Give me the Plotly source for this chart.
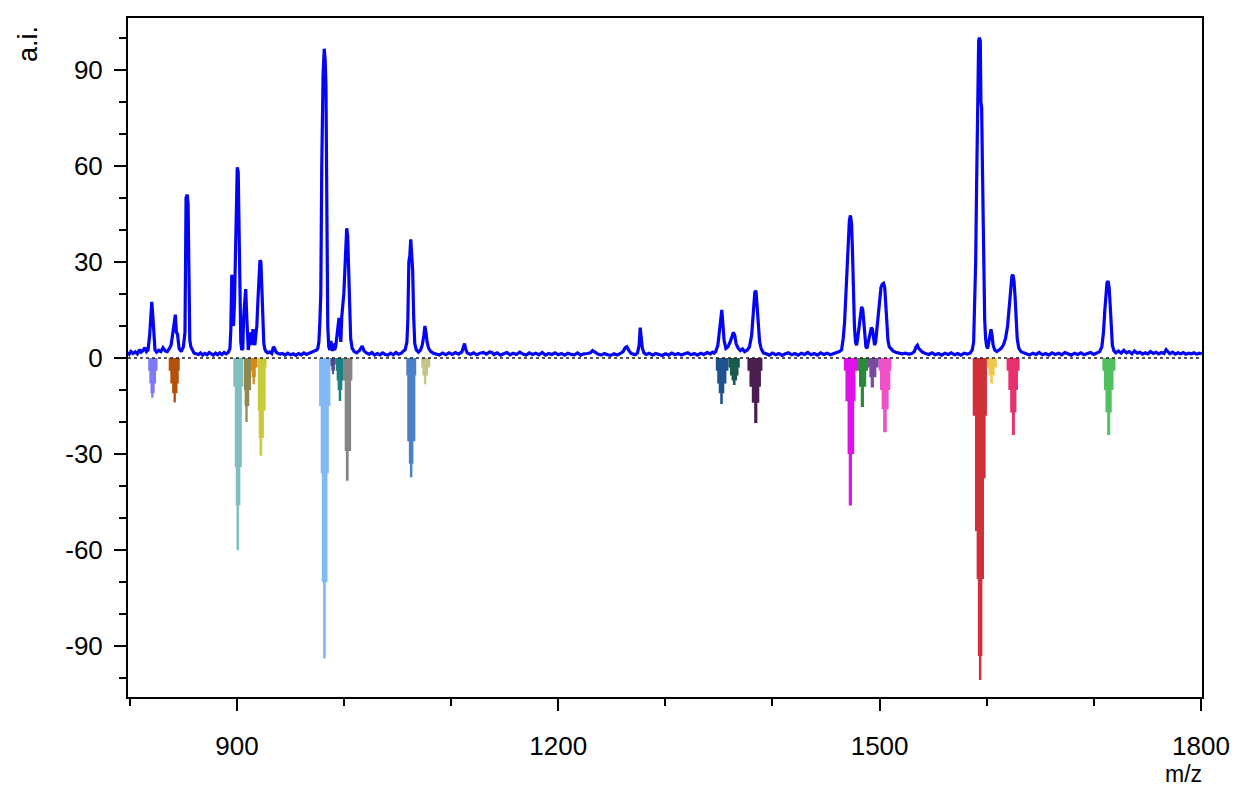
import plotly.graph_objects as go

# ---------------- positive spectrum (m/z, a.i.) by segment ----------------
seg_a = [(798.3, 1.8), (799.5, 1.2), (801, 2.0), (803, 1.4), (805, 1.9), (807, 1.3), (809, 2.6), (810.5, 1.8),
         (812, 2.2), (814, 3.2), (815.5, 2.0), (817, 2.5), (818.5, 7), (819.5, 12), (820.5, 17.5), (821.5, 13),
         (822.5, 5), (823.5, 2.5), (825, 1.8), (827, 2.4), (829, 2.0), (831, 3.2), (833, 2.2), (835, 2.0),
         (837, 3.0), (838.5, 4.0), (840, 7.5), (841.5, 12.5), (842.5, 13.5), (843.5, 8), (844.5, 7.5), (846, 3.0),
         (848, 2.0), (850, 3.5), (851.5, 8), (852.5, 50), (853.6, 51), (854.4, 48), (855.2, 8), (856, 5.5),
         (857, 3.5), (858.5, 2.2), (860, 1.5), (862, 1.3)]
seg_b = [(864, 1.1), (866, 1.6), (868, 0.9), (870, 1.4), (872, 1.0), (874, 1.7), (876, 1.2), (878, 0.9),
         (880, 1.5), (882, 1.0), (884, 1.6), (886, 1.1), (888, 1.7), (890, 1.3), (892, 1.8)]
seg_c = [(893.5, 3), (894.3, 9), (895.2, 26), (896, 11), (896.8, 10), (897.7, 17), (898.6, 33), (899.5, 50),
         (900.3, 59.5), (901.2, 58), (902, 38), (902.8, 14), (903.6, 5), (904.5, 2.5), (905.5, 3), (906.3, 13),
         (907.2, 17), (908.2, 21.5), (909, 14), (909.8, 5), (910.6, 2.5), (911.5, 5), (912.4, 8), (913.3, 4),
         (914.2, 6), (915, 9), (915.8, 5), (916.7, 4), (917.6, 7), (918.6, 10), (919.6, 18), (920.6, 28),
         (921.5, 30.5), (922.4, 30), (923.3, 22), (924.2, 10), (925.1, 4.5), (926, 2.8), (927.2, 2.0),
         (928.8, 1.6), (930.6, 1.9), (932.5, 1.4), (934, 3.5), (935.2, 3.0), (936.5, 1.8), (938.5, 1.4),
         (940.5, 1.2)]
seg_d = [(942.5, 1.4), (945, 0.9), (947.5, 1.5), (950, 1.0), (952.5, 1.3), (955, 0.8), (957.5, 1.4), (960, 1.0),
         (962.5, 1.6), (965, 1.1), (967.5, 1.5), (970, 1.8), (972.5, 2.2), (974.5, 2.5)]
seg_e = [(975.5, 3), (976.5, 5), (977.4, 11), (978.3, 20), (979.2, 60), (979.8, 78), (980.4, 88), (981.5, 96.5),
         (982.4, 93), (983.1, 85), (983.6, 50), (984.1, 24), (984.8, 10), (985.7, 3.5), (986.7, 2.5),
         (987.7, 5.3), (988.5, 3), (989.3, 2.2), (990.2, 4.5), (991.2, 2.5), (992.2, 3.5), (993.3, 7),
         (994.3, 10), (995.3, 12.5), (996.2, 8), (997, 5), (997.9, 13), (998.8, 16.8), (999.8, 20),
         (1000.7, 27), (1001.6, 37), (1002.5, 40.5), (1003.4, 38), (1004.4, 24), (1005.3, 12), (1006.2, 6),
         (1007.6, 3), (1009.5, 2), (1011.8, 1.6), (1014.6, 2.4), (1016.9, 3.7), (1018.8, 2.2), (1021.2, 1.5)]
seg_f = [(1023.5, 1.2), (1026, 1.7), (1028.5, 0.9), (1031, 1.4), (1033.5, 1.0), (1036, 1.6), (1038.5, 1.1),
         (1041, 0.9), (1043.5, 1.5), (1046, 1.0), (1048.5, 1.7), (1051, 1.2), (1053.5, 1.5), (1055.5, 2.2)]
seg_g = [(1057, 2.5), (1058.7, 5), (1059.6, 12), (1060.5, 30), (1061.4, 32), (1062.3, 37), (1063.2, 33),
         (1064.1, 27), (1065, 13), (1066, 4.5), (1067.5, 2.5), (1069.5, 1.8), (1071.5, 2.5), (1073, 4),
         (1074.5, 7), (1075.5, 10), (1076.5, 8), (1077.5, 5), (1079, 3), (1081, 2.0), (1083.5, 1.5)]
seg_h = [(1086, 1.3), (1089, 0.9), (1092, 1.5), (1095, 1.0), (1098, 1.6), (1101, 1.1), (1104, 1.7), (1107, 1.2),
         (1110, 1.9), (1111.5, 3.5), (1112.5, 4.5), (1113.5, 2.8), (1115, 1.6), (1118, 1.1), (1121, 1.6),
         (1124, 1.0), (1127, 1.5), (1130, 1.7), (1133, 1.2), (1136, 1.9), (1138, 1.7), (1140, 1.1), (1143, 1.6),
         (1146, 0.9), (1149, 1.4), (1152, 1.7), (1155, 1.0), (1158, 1.5), (1161, 1.1), (1164, 1.8), (1167, 1.2),
         (1170, 0.9), (1173, 1.6), (1176, 1.1), (1179, 1.5), (1182, 1.0), (1185, 1.7), (1188, 0.9), (1191, 1.4),
         (1194, 1.1), (1197, 1.6), (1200, 1.0), (1203, 1.4), (1206, 0.9), (1209, 1.5), (1212, 1.1), (1215, 1.0),
         (1218, 1.6), (1221, 0.9), (1224, 1.3), (1227, 1.4), (1230, 1.6), (1232, 2.3), (1234, 1.8), (1237, 1.2),
         (1240, 0.9), (1243, 1.4), (1246, 1.0), (1249, 0.8), (1252, 1.3), (1255, 0.9), (1258, 1.4),
         (1260.5, 2.0), (1262.5, 3.2), (1264, 3.5), (1266, 2.3), (1268, 1.4), (1270, 1.2), (1272, 1.0),
         (1274, 1.6), (1275.5, 4), (1276.5, 9.5), (1277.5, 7), (1278.5, 3), (1280, 1.6), (1282, 1.1),
         (1285, 1.5), (1288, 0.9), (1291, 1.4), (1294, 1.0), (1297, 0.8), (1300, 1.3), (1303, 0.9), (1306, 1.5),
         (1309, 1.0), (1312, 1.4), (1315, 0.9), (1318, 1.3), (1321, 1.6), (1324, 1.0), (1327, 1.4), (1330, 0.9),
         (1333, 1.5), (1336, 1.1), (1339, 1.7), (1342, 1.3), (1344, 1.8)]
seg_i = [(1345.5, 1.5), (1347, 2.0), (1349, 4), (1350.5, 9), (1351.8, 14.5), (1352.7, 15), (1353.6, 11),
         (1354.8, 5.5), (1356.5, 3), (1358.5, 3.5), (1360.5, 5), (1362, 7), (1363.5, 8), (1364.8, 7),
         (1366, 4.5), (1368, 3), (1370, 2.3), (1372, 2.8), (1374, 2.0), (1376.5, 2.5), (1378.5, 3.5),
         (1380.5, 7), (1382, 13), (1383.5, 20.5), (1384.6, 21), (1385.8, 16), (1386.8, 11), (1388, 5),
         (1389.5, 2.8), (1391.5, 1.6), (1394, 1.3)]
seg_j = [(1397, 0.9), (1400, 1.5), (1403, 1.0), (1406, 1.4), (1409, 0.8), (1412, 1.3), (1415, 1.6), (1418, 1.0),
         (1421, 1.4), (1424, 0.9), (1427, 1.5), (1430, 1.1), (1433, 1.7), (1436, 1.0), (1439, 1.4), (1442, 0.9),
         (1445, 1.6), (1448, 1.1), (1451, 1.5), (1454, 1.0), (1457, 1.4), (1460, 1.6), (1462.5, 2.0)]
seg_k = [(1464.5, 2.5), (1466, 6), (1467.3, 11), (1468.5, 19), (1469.7, 28), (1470.8, 36), (1471.8, 43),
         (1472.8, 44.5), (1473.8, 42), (1474.7, 33), (1475.6, 20), (1476.5, 10), (1477.5, 5), (1478.5, 4),
         (1479.5, 6), (1480.7, 10), (1482, 14.5), (1483.2, 16), (1484.3, 15), (1485.3, 11), (1486.2, 6),
         (1487.2, 3.5), (1488.2, 3), (1489.3, 4.5), (1490.3, 6.5), (1491.3, 8), (1492.3, 9.5), (1493.3, 9),
         (1494.3, 6), (1495.3, 4), (1496.3, 5), (1497.5, 9), (1498.7, 14), (1500, 19), (1501.3, 22),
         (1502.5, 23), (1503.7, 23.3), (1504.8, 22), (1505.8, 17), (1506.8, 10), (1507.8, 5.5), (1509, 3.5),
         (1510.5, 2.8), (1512.5, 2.2), (1515, 1.8), (1518, 1.5), (1521, 1.3), (1524, 1.5), (1527, 1.2),
         (1530, 1.4), (1532.5, 2.0), (1534, 3.5), (1535.3, 4.0), (1536.5, 3.0), (1538, 2.5), (1540, 1.8),
         (1543, 1.4), (1546, 1.1), (1549, 1.6), (1552, 1.0), (1555, 1.4), (1558, 0.9), (1561, 1.5), (1564, 1.1),
         (1567, 1.6), (1570, 1.0), (1573, 1.4), (1576, 0.9), (1579, 1.5), (1582, 1.2), (1584.5, 1.5),
         (1586.5, 2.5)]
seg_l = [(1587.8, 5), (1588.8, 15), (1589.7, 30), (1590.6, 55), (1591.2, 70), (1591.8, 90), (1592.5, 99),
         (1593.2, 100), (1594, 99), (1594.6, 80), (1595.3, 78), (1596, 60), (1596.7, 40), (1597.4, 22),
         (1598.1, 12), (1599, 6), (1600, 3.5), (1601, 3), (1602, 5), (1603, 8), (1604, 9), (1605, 7), (1606, 4),
         (1607.5, 2.5), (1609.5, 2), (1611.5, 2.5), (1613.5, 3), (1615.5, 4), (1617.5, 6), (1619.5, 10),
         (1621, 16), (1622.3, 22), (1623.5, 25.5), (1624.5, 26), (1625.5, 24), (1626.5, 19), (1627.5, 12),
         (1628.5, 6), (1630, 3), (1632, 2), (1634.5, 1.6), (1637, 1.3)]
seg_m = [(1640, 0.9), (1643, 1.5), (1646, 1.1), (1649, 1.7), (1652, 1.0), (1655, 1.4), (1658, 0.9), (1661, 1.6),
         (1664, 1.1), (1667, 1.5), (1670, 1.0), (1673, 1.7), (1676, 1.2), (1679, 0.9), (1682, 1.5), (1685, 1.1),
         (1688, 1.6), (1691, 1.0), (1694, 1.4), (1697, 1.7), (1700, 1.1), (1703, 1.5), (1705.5, 2.0)]
seg_n = [(1707.5, 3.5), (1709, 8), (1710.3, 15), (1711.3, 21), (1712.3, 23.5), (1713.3, 24), (1714.3, 22),
         (1715.2, 17), (1716.2, 9), (1717.3, 4), (1718.8, 2.2), (1720.5, 1.6), (1723, 2.2), (1725.5, 1.5),
         (1728, 2.4), (1730.5, 1.6), (1733, 2.0), (1735.5, 1.3), (1738, 2.2), (1740.5, 1.5), (1743, 1.8),
         (1745.5, 1.2), (1748, 1.6), (1750.5, 1.3), (1753, 2.0), (1755.5, 1.4), (1758, 1.8), (1760.5, 1.3),
         (1763, 1.7), (1765.5, 1.4), (1767.5, 2.6), (1769, 2.0), (1771, 1.3), (1773.5, 1.8), (1776, 1.2),
         (1778.5, 1.6), (1781, 1.3), (1783.5, 1.7), (1786, 1.2), (1788.5, 1.5), (1791, 1.3), (1793.5, 1.6),
         (1796, 1.2), (1798.5, 1.5), (1800.8, 1.3)]

# ---------------- negative (assigned) peaks: (m/z step edge, -a.i.) ----------------
neg_colors = ["#7b7bf7", "#b5500a", "#80bfbf", "#8c8a4e", "#d68a1a", "#c9c93a", "#80b8f8", "#4a4a8c",
              "#1a8282", "#858585", "#4a80c8", "#c4c484", "#1f5090", "#1a5a48", "#4a1e4e", "#e010e8",
              "#2a8a3a", "#7a4aa0", "#f050c8", "#d03038", "#f0c850", "#e83070", "#50c060"]
neg_p01 = [(817.2, -4), (818.2, -8), (819.3, -11), (820, -12.4), (822, -11), (823.2, -8), (824.5, -4), (825.9, 0)]
neg_p02 = [(836.3, -4), (837.8, -8), (839.5, -11), (840.8, -13.9), (843, -11), (844.5, -8), (845.7, -4), (846.6, 0)]
neg_p03 = [(896.6, -9), (898, -34), (898.9, -46), (899.6, -60), (902, -46), (903.2, -34), (904.6, -9), (905.9, 0)]
neg_p04 = [(906.5, -10), (907.2, -15), (907.9, -20), (910, -15), (911.5, -10), (913.2, 0)]
neg_p05 = [(913, -4), (913.8, -6), (914.6, -8.2), (916.7, -6), (917.6, -3), (918.9, 0)]
neg_p06 = [(918.9, -3), (919.5, -16.5), (920.3, -25), (921.1, -30.5), (923.6, -25), (925.2, -16.5), (926.8, -3), (927.7, 0)]
neg_p07 = [(976.7, -15), (978.2, -36), (979.3, -70), (980.4, -93.8), (982.9, -70), (984.5, -36), (985.8, -15), (987.3, 0)]
neg_p08 = [(987.3, -2.5), (988.2, -4), (988.9, -5.1), (990.7, -4), (991.4, -2), (992.3, 0)]
neg_p09 = [(992.3, -4), (993.1, -7), (994, -10), (995, -13.4), (997.3, -10), (998.4, -7), (999.7, 0)]
neg_p10 = [(999.7, -7), (1000.6, -29), (1001.7, -38.3), (1004.3, -29), (1006.6, -7), (1007.8, 0)]
neg_p11 = [(1058.1, -5.5), (1059, -26), (1060.5, -33), (1061.5, -37.2), (1063.8, -33), (1064.8, -26), (1066.6, -5.5), (1067.4, 0)]
neg_p12 = [(1072.1, -3), (1073.2, -5.5), (1074.5, -8.2), (1076.8, -5.5), (1078.5, -3), (1080.5, 0)]
neg_p13 = [(1347.1, -4), (1348.4, -8), (1349.8, -11), (1351.2, -14.4), (1353.6, -11), (1355, -8), (1357, -4), (1358.9, 0)]
neg_p14 = [(1358.9, -3), (1360.3, -5.5), (1361.8, -7), (1363.1, -8.4), (1365.5, -7), (1366.9, -5.5), (1368.3, -3), (1369.5, 0)]
neg_p15 = [(1376.6, -4), (1378.5, -9), (1380.7, -14), (1382.9, -20.3), (1385.9, -14), (1387.7, -9), (1389.2, -4), (1390.6, 0)]
neg_p16 = [(1466.6, -4), (1468.1, -13.5), (1470.1, -30), (1471.2, -46), (1474.2, -30), (1476.3, -13.5), (1477.5, -4), (1479.9, 0)]
neg_p17 = [(1479.9, -4), (1480.8, -9), (1482.4, -15.3), (1485.4, -9), (1487.5, -4), (1489.2, 0)]
neg_p18 = [(1489.2, -3), (1490.4, -6), (1491.7, -9.2), (1494.7, -6), (1497, -3), (1499.2, 0)]
neg_p19 = [(1499.2, -4), (1500.4, -10), (1501.9, -16), (1503.3, -23.2), (1506.7, -16), (1508.4, -10), (1510, -4), (1511, 0)]
neg_p20 = [(1586.9, -18), (1589, -54), (1590.6, -69), (1591.7, -93), (1592.7, -100.5), (1595, -93), (1596, -69), (1597.5, -37.5), (1599, -18), (1600.2, 0)]
neg_p21 = [(1600.2, -3), (1601.8, -5.5), (1603.3, -8), (1605.8, -5.5), (1607.5, -3), (1609.5, 0)]
neg_p22 = [(1618.6, -4), (1620.2, -10), (1621.9, -17), (1623.5, -24), (1626.3, -17), (1627.7, -10), (1629.2, -4), (1630.7, 0)]
neg_p23 = [(1708, -4), (1709.4, -10), (1710.9, -17), (1712.5, -24), (1715.3, -17), (1716.7, -10), (1718.4, -4), (1720.2, 0)]

neg_peaks = [neg_p01, neg_p02, neg_p03, neg_p04, neg_p05, neg_p06, neg_p07, neg_p08, neg_p09, neg_p10, neg_p11,
             neg_p12, neg_p13, neg_p14, neg_p15, neg_p16, neg_p17, neg_p18, neg_p19, neg_p20, neg_p21, neg_p22,
             neg_p23]

x_major = [900, 1200, 1500, 1800]
x_minor = [800, 1000, 1100, 1300, 1400, 1600, 1700]
y_major = [-90, -60, -30, 0, 30, 60, 90]
y_major_text = ["-90", "-60", "-30", "0", "30", "60", "90"]

# ---------------- figure ----------------
fig = go.Figure()
for col, pk in zip(neg_colors, neg_peaks):
    fig.add_trace(go.Scatter(x=[p[0] for p in pk], y=[p[1] for p in pk], mode="lines",
                             line=dict(shape="hv", width=0, color=col), fill="tozeroy",
                             fillcolor=col, hoverinfo="skip", showlegend=False))

spectrum = seg_a + seg_b + seg_c + seg_d + seg_e + seg_f + seg_g + seg_h + seg_i + seg_j + seg_k + seg_l + seg_m + seg_n
fig.add_trace(go.Scatter(x=[p[0] for p in spectrum], y=[p[1] for p in spectrum], mode="lines",
                         line=dict(color="#0505f5", width=3.2), showlegend=False))

fig.add_hline(y=0, line=dict(color="#222222", width=1.3, dash="dot"), layer="above")

tick_font = dict(family="Liberation Sans, Arial, sans-serif", size=26, color="black")
ai_font = dict(family="Liberation Sans, Arial, sans-serif", size=27, color="black")
mz_font = dict(family="Liberation Sans, Arial, sans-serif", size=23, color="black")

# The page body adds an 8 px offset; the figure is sized so the plot box lands where the reference's does.
fig.update_layout(
    width=1230, height=779,
    margin=dict(l=120, r=35, t=8, b=90),
    paper_bgcolor="white", plot_bgcolor="white",
    font=tick_font, showlegend=False,
    xaxis=dict(range=[798.3, 1801], tickmode="array", tickvals=x_major, ticks="outside", ticklen=12, tickwidth=2,
               tickcolor="black", showline=True, linewidth=2, linecolor="black", mirror=True,
               showgrid=False, zeroline=False, ticklabelstandoff=13, tickfont=tick_font,
               minor=dict(tickmode="array", tickvals=x_minor,
                          ticks="outside", ticklen=7, tickwidth=2, tickcolor="black")),
    yaxis=dict(range=[-105.8, 106.1], tickmode="array", tickvals=y_major, ticktext=y_major_text,
               ticks="outside", ticklen=12, tickwidth=2,
               tickcolor="black", showline=True, linewidth=2, linecolor="black", mirror=True,
               showgrid=False, zeroline=False, ticklabelstandoff=6, tickfont=tick_font,
               minor=dict(tickmode="linear", tick0=0, dtick=10, ticks="outside", ticklen=7, tickwidth=2,
                          tickcolor="black")),
    annotations=[
        dict(text="a.i.", xref="paper", yref="paper", x=-0.093, y=0.962, showarrow=False, textangle=-90,
             font=ai_font, xanchor="center", yanchor="middle"),
        dict(text="m/z", xref="paper", yref="paper", x=0.983, y=-0.113, showarrow=False,
             font=mz_font, xanchor="center", yanchor="middle"),
    ],
)

fig.write_html("out.html")
